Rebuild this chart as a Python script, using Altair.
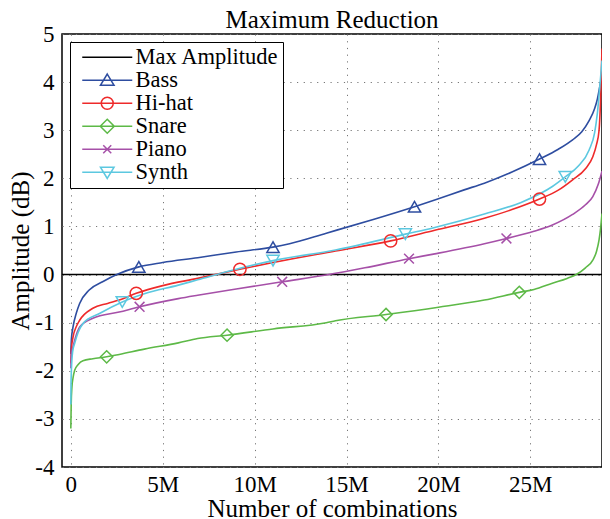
import altair as alt
import pandas as pd

# ---------------- data (x in millions of combinations, y in dB) ----------------
names = ["Bass", "Hi-hat", "Snare", "Piano", "Synth"]
colors = ["#2E4DA0", "#EE2A2A", "#5DB947", "#A650A8", "#5CC8E0"]

bass_x = [0, 0.03, 0.12, 0.3, 0.48, 1.0, 1.73, 2.5, 3.7, 5.0, 6.9, 9.0, 11.0, 11.9, 13.9, 16.5, 18.7, 19.8, 21.4, 22.5, 24.0, 25.5, 26.5, 27.3, 27.8, 28.2, 28.5, 28.65, 28.8, 28.9]
bass_y = [-1.65, -1.35, -1.09, -0.8, -0.6, -0.32, -0.15, 0.0, 0.16, 0.25, 0.35, 0.47, 0.57, 0.64, 0.86, 1.15, 1.41, 1.55, 1.76, 1.9, 2.13, 2.4, 2.6, 2.8, 2.97, 3.2, 3.45, 3.65, 3.95, 4.15]

hihat_x = [0, 0.03, 0.12, 0.3, 0.48, 1.2, 2.0, 2.63, 3.56, 5.0, 6.9, 9.2, 11.0, 14.4, 17.4, 19.8, 22.5, 24.0, 25.5, 26.5, 27.3, 28.0, 28.4, 28.6, 28.74, 28.82, 28.9]
hihat_y = [-1.85, -1.55, -1.3, -1.08, -0.95, -0.7, -0.6, -0.53, -0.39, -0.23, -0.08, 0.11, 0.25, 0.49, 0.70, 0.92, 1.17, 1.35, 1.57, 1.75, 1.97, 2.2, 2.45, 2.7, 3.0, 3.6, 4.7]

snare_x = [0, 0.02, 0.06, 0.12, 0.21, 0.4, 0.66, 1.2, 1.95, 2.63, 4.0, 5.85, 6.9, 8.5, 11.0, 13.9, 14.4, 17.15, 20.0, 22.5, 24.4, 25.2, 26.2, 27.0, 27.5, 28.0, 28.4, 28.6, 28.74, 28.82, 28.9]
snare_y = [-3.2, -2.7, -2.34, -2.15, -1.99, -1.87, -1.79, -1.75, -1.71, -1.66, -1.55, -1.42, -1.33, -1.26, -1.13, -1.0, -0.96, -0.83, -0.68, -0.53, -0.37, -0.31, -0.18, -0.08, 0.0, 0.14, 0.3, 0.48, 0.72, 0.95, 1.27]

piano_x = [0, 0.03, 0.12, 0.3, 0.48, 1.2, 2.63, 3.74, 5.85, 6.9, 9.0, 11.5, 13.9, 16.0, 18.4, 19.8, 22.5, 23.7, 25.2, 26.2, 27.3, 28.0, 28.4, 28.7, 28.9]
piano_y = [-1.95, -1.65, -1.5, -1.25, -1.09, -0.91, -0.78, -0.67, -0.5, -0.43, -0.3, -0.15, -0.01, 0.14, 0.33, 0.43, 0.64, 0.75, 0.9, 1.03, 1.25, 1.45, 1.62, 1.88, 2.15]

synth_x = [0, 0.01, 0.03, 0.1, 0.21, 0.4, 0.66, 1.56, 2.8, 4.0, 5.85, 6.9, 9.0, 11.0, 14.4, 18.2, 19.8, 22.5, 24.5, 26.2, 26.9, 27.6, 28.2, 28.5, 28.65, 28.78, 28.9]
synth_y = [-2.7, -2.3, -2.0, -1.6, -1.43, -1.2, -1.02, -0.81, -0.57, -0.4, -0.22, -0.11, 0.11, 0.29, 0.51, 0.84, 0.98, 1.26, 1.5, 1.83, 2.03, 2.25, 2.59, 2.95, 3.36, 3.9, 4.45]

# marker positions (as drawn)
bass_mx, bass_my = [3.7, 11.0, 18.7, 25.5], [0.16, 0.57, 1.41, 2.4]
hihat_mx, hihat_my = [3.56, 9.2, 17.4, 25.5], [-0.39, 0.11, 0.70, 1.57]
snare_mx, snare_my = [1.95, 8.5, 17.15, 24.4], [-1.71, -1.26, -0.83, -0.37]
piano_mx, piano_my = [3.74, 11.5, 18.4, 23.7], [-0.67, -0.15, 0.33, 0.75]
synth_mx, synth_my = [2.8, 11.0, 18.2, 26.9], [-0.57, 0.29, 0.84, 2.03]

max_amplitude = [0.0]

x_ticks = [0, 5, 10, 15, 20, 25]
y_ticks = [-4, -3, -2, -1, 0, 1, 2, 3, 4, 5]
x_domain = [-0.48, 28.9]
y_domain = [-4, 5]

# ---------------- tables ----------------
line_rows = []
for n, xs, ys in zip(names, [bass_x, hihat_x, snare_x, piano_x, synth_x],
                     [bass_y, hihat_y, snare_y, piano_y, synth_y]):
    for i, (a, b) in enumerate(zip(xs, ys)):
        line_rows.append({"series": n, "x": a, "y": b, "i": i})
lines_df = pd.DataFrame(line_rows)

mark_rows = []
for n, xs, ys in zip(names, [bass_mx, hihat_mx, snare_mx, piano_mx, synth_mx],
                     [bass_my, hihat_my, snare_my, piano_my, synth_my]):
    for a, b in zip(xs, ys):
        mark_rows.append({"series": n, "x": a, "y": b})
marks_df = pd.DataFrame(mark_rows)

zero_df = pd.DataFrame({"y": max_amplitude})

legend_labels = ["Max Amplitude"] + names
legend_colors = ["black"] + colors
legend_paths = [
    "M-2.5,0H2.5",
    "M-2.5,0H2.5M0,-0.62L0.68,0.5L-0.68,0.5Z",
    "M-2.5,0H2.5M-0.6,0A0.6,0.6,0,1,0,0.6,0A0.6,0.6,0,1,0,-0.6,0Z",
    "M-2.5,0H2.5M0,-0.7L0.7,0L0,0.7L-0.7,0Z",
    "M-2.5,0H2.5M-0.4,-0.4L0.4,0.4M-0.4,0.4L0.4,-0.4",
    "M-2.5,0H2.5M0,0.62L0.68,-0.5L-0.68,-0.5Z",
]
legend_df = pd.DataFrame({"label": legend_labels})

marker_shapes = ["triangle-up", "circle", "diamond", "M-0.8,-0.8L0.8,0.8M-0.8,0.8L0.8,-0.8", "triangle-down"]

FONT = "Liberation Serif"

x_scale = alt.Scale(domain=x_domain, nice=False, zero=False)
y_scale = alt.Scale(domain=y_domain, nice=False, zero=False)
x_axis = alt.Axis(values=x_ticks, labelExpr="datum.value == 0 ? '0' : datum.value + 'M'",
                  title="Number of combinations", titleY=49, titleBaseline="alphabetic",
                  labelPadding=6)
y_axis = alt.Axis(values=y_ticks, labelExpr="datum.value + ''",
                  title="Amplitude (dB)", titlePadding=1, labelPadding=8)

X = alt.X("x:Q", scale=x_scale, axis=x_axis)
Y = alt.Y("y:Q", scale=y_scale, axis=y_axis)

color_scale = alt.Scale(domain=names, range=colors)

zero_rule = alt.Chart(zero_df).mark_rule(color="black", strokeWidth=1.5).encode(y=Y)

lines = alt.Chart(lines_df).mark_line(strokeWidth=1.6, interpolate="monotone", clip=True).encode(
    x=X, y=Y,
    color=alt.Color("series:N", scale=color_scale, legend=None),
    order="i:Q",
)

markers = alt.Chart(marks_df).mark_point(filled=False, size=150, strokeWidth=1.5, opacity=1, clip=True).encode(
    x=X, y=Y,
    color=alt.Color("series:N", scale=color_scale, legend=None),
    shape=alt.Shape("series:N", scale=alt.Scale(domain=names, range=marker_shapes), legend=None),
)

leg = alt.Legend(
    orient="none", legendX=8, legendY=8, title=None,
    symbolSize=400, symbolStrokeWidth=1.5, symbolOffset=22,
    labelOffset=17, labelFont=FONT, labelFontSize=22.5, labelColor="black", labelLimit=0,
    strokeColor="black", fillColor="white", padding=4, rowPadding=0,
)
legend_layer = alt.Chart(legend_df).mark_point(filled=False, opacity=1, strokeWidth=1.5).encode(
    color=alt.Color("label:N", scale=alt.Scale(domain=legend_labels, range=legend_colors), legend=leg),
    shape=alt.Shape("label:N", scale=alt.Scale(domain=legend_labels, range=legend_paths), legend=leg),
).transform_filter("false")

chart = alt.layer(zero_rule, lines, markers, legend_layer).resolve_scale(
    color="independent", shape="independent"
).properties(
    width=540, height=433,
    title=alt.TitleParams("Maximum Reduction", font=FONT, fontSize=25, fontWeight="normal",
                          anchor="middle", offset=-10, color="black"),
    autosize=alt.AutoSizeParams(type="none"),
    padding={"left": 54, "top": 26, "right": 0, "bottom": 52},
).configure_view(
    stroke="black", strokeWidth=1.5
).configure_axis(
    labelFont=FONT, labelFontSize=23, labelColor="black",
    titleFont=FONT, titleFontSize=25, titleFontWeight="normal", titleColor="black",
    domain=False, ticks=False,
    grid=True, gridColor="#777777", gridDash=[1.2, 5.5], gridWidth=1, gridOpacity=1,
)

chart.save("out.html", embed_options={"renderer": "svg", "actions": False})
